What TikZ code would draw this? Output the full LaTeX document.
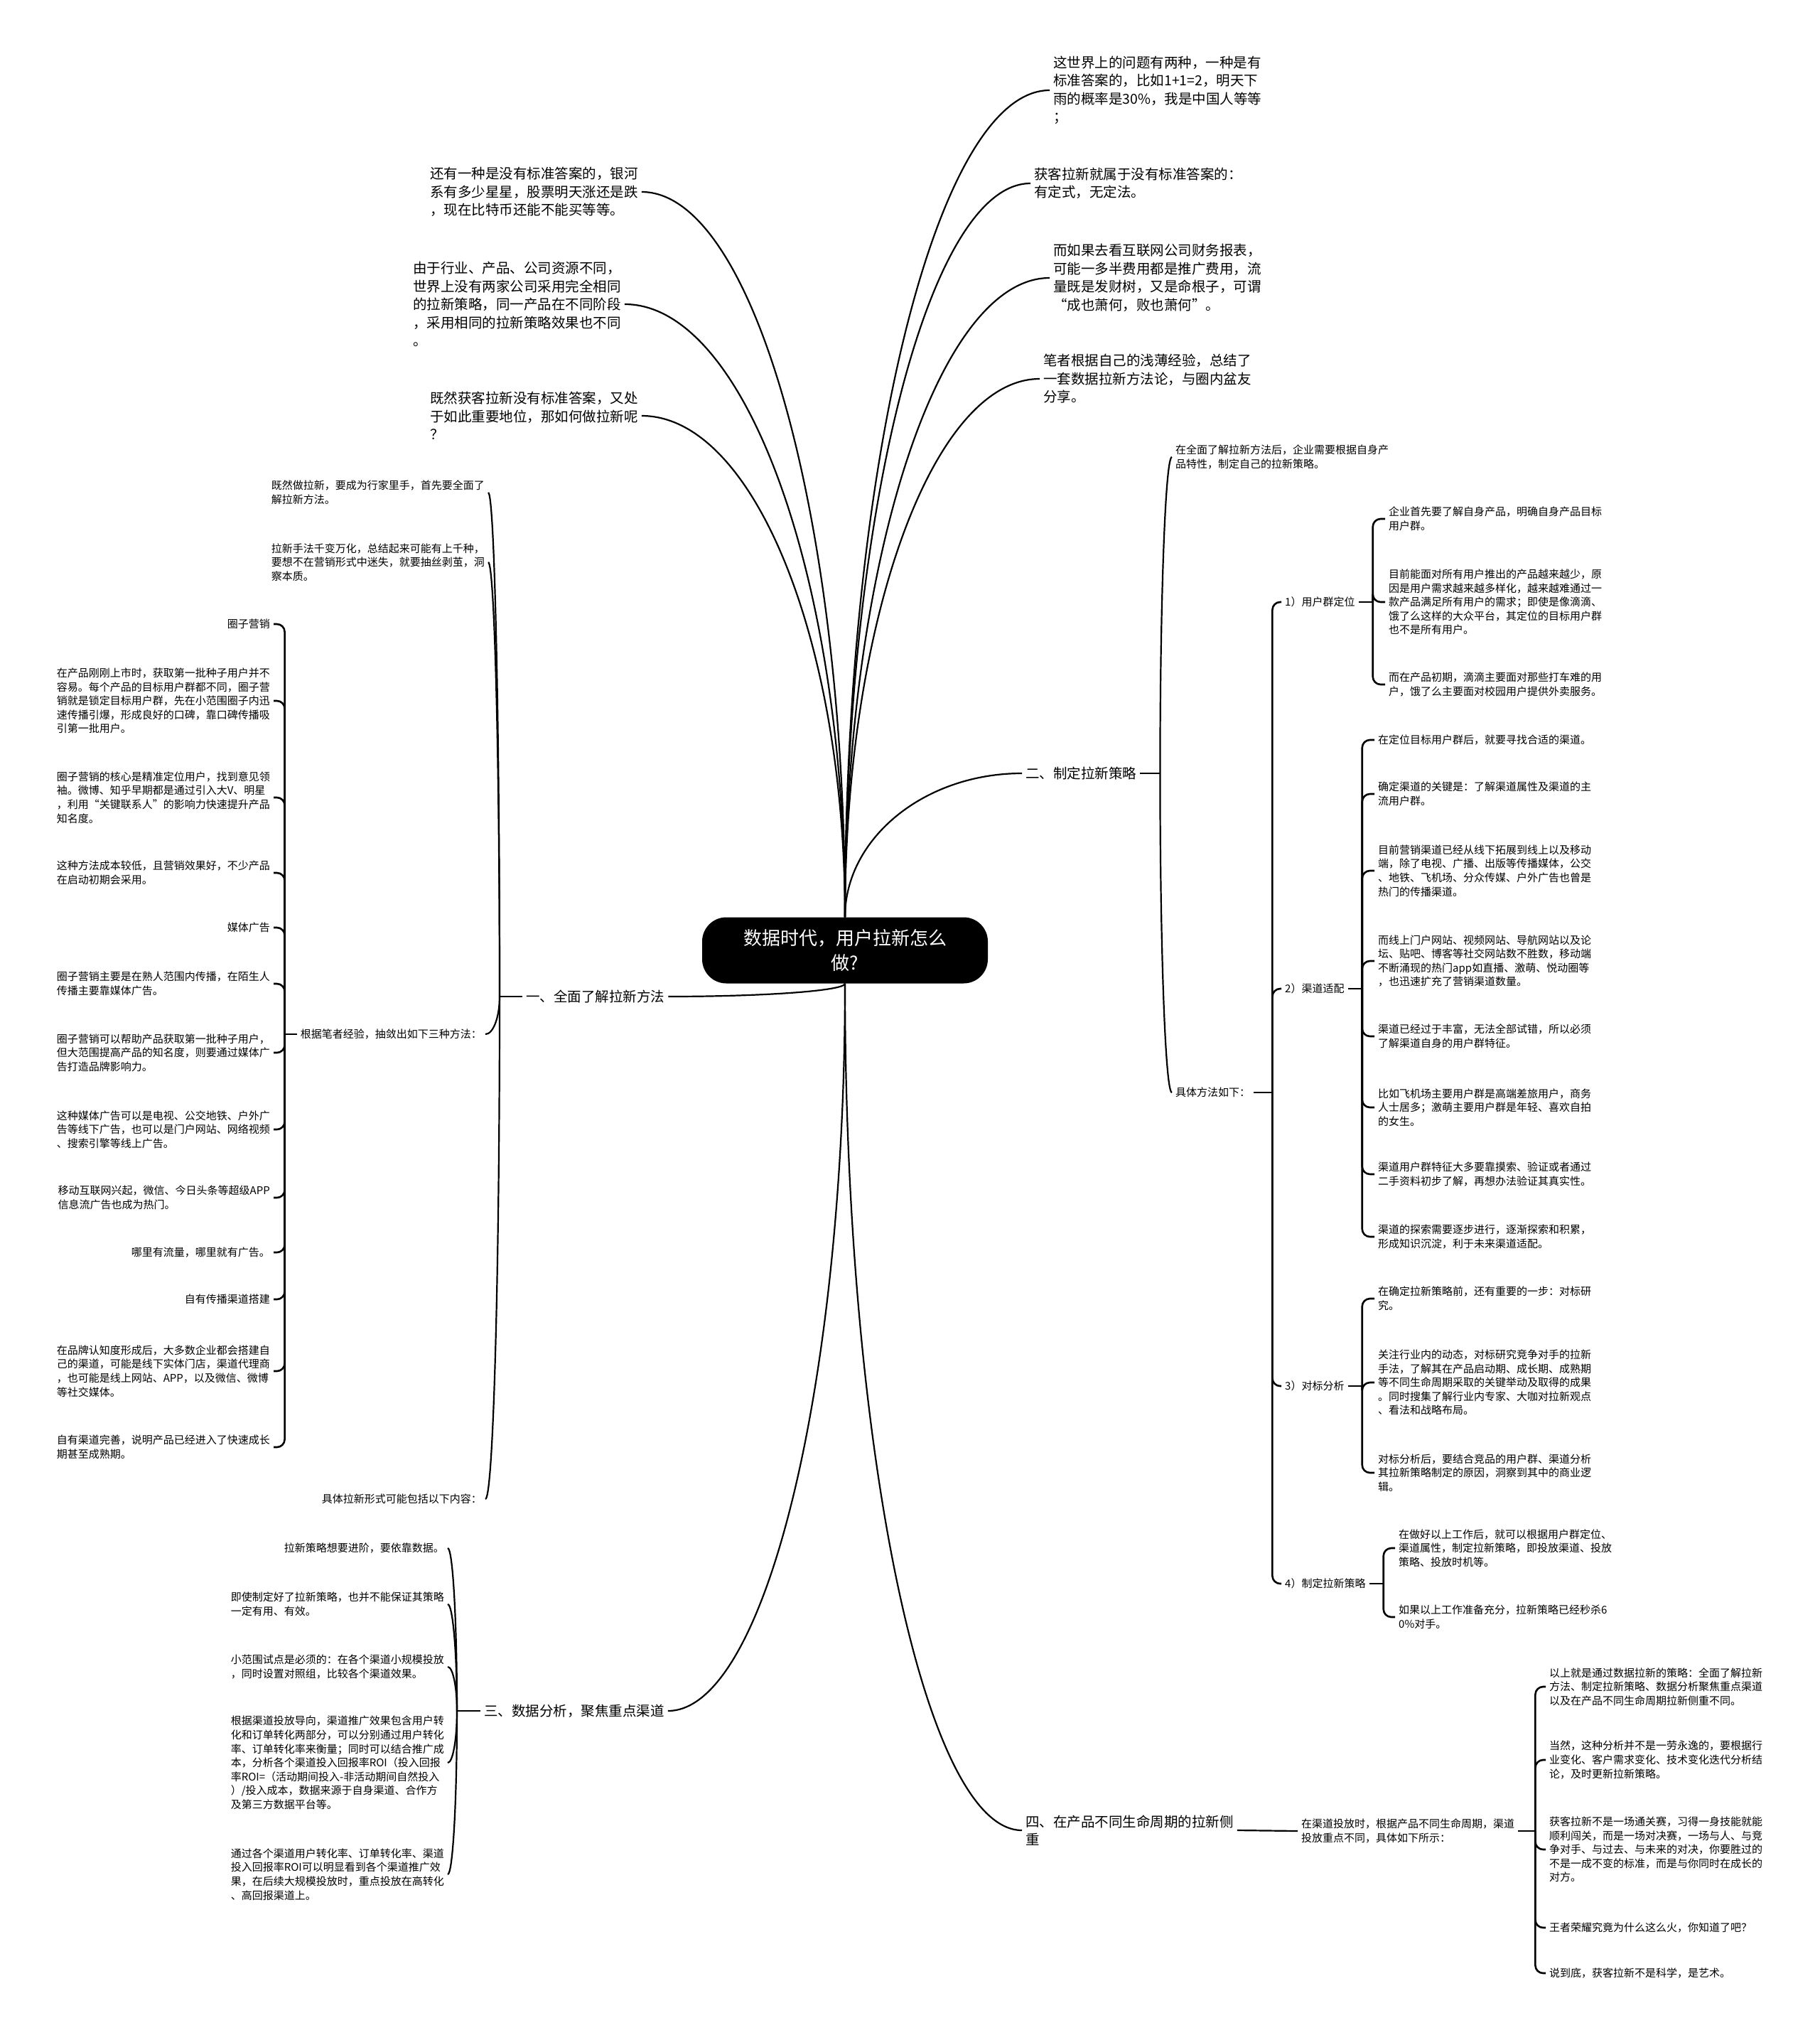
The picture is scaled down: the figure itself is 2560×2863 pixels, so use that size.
\documentclass[tikz,border=0pt]{standalone}
\usepackage{fontspec}
\setmainfont{Noto Sans CJK SC}
\usetikzlibrary{calc,positioning}

\begin{document}
\begin{tikzpicture}[x=1pt, y=-1pt,
    every node/.style={inner sep=5pt},
    big/.style={font=\fontsize{19.5}{25.5}\selectfont, align=left},
    small/.style={font=\fontsize{15}{19.6}\selectfont, align=left},
    link/.style={line width=2.2pt},
    brace/.style={line width=2.6pt, rounded corners=11pt},
    elbow/.style={to path={.. controls ($(\tikztostart)!0.55!(\tikztostart|-\tikztotarget)$) and ($(\tikztotarget)!0.55!(\tikztostart|-\tikztotarget)$) .. (\tikztotarget)}}]
        \fill [white] (0,0) rectangle (2560,2863);
        \useasboundingbox (0,0) rectangle (2560,2863);
        \node [fill=black, text=white, rounded corners=34pt, minimum width=402pt, minimum height=93pt, align=center, font=\fontsize{26}{35}\selectfont] (root) at (1189,1337) {数据时代，用户拉新怎么\\做?};
        \node [big, anchor=west] (t1) at (1477,127) {这世界上的问题有两种，一种是有\\标准答案的，比如1+1=2，明天下\\雨的概率是30\%，我是中国人等等\\；};
        \node [big, anchor=west] (t2) at (1450,258) {获客拉新就属于没有标准答案的：\\有定式，无定法。};
        \node [big, anchor=west] (t3) at (1477,391) {而如果去看互联网公司财务报表，\\可能一多半费用都是推广费用，流\\量既是发财树，又是命根子，可谓\\“成也萧何，败也萧何”。};
        \node [big, anchor=west] (t4) at (1463,533) {笔者根据自己的浅薄经验，总结了\\一套数据拉新方法论，与圈内盆友\\分享。};
        \node [big, anchor=west] (l1) at (600,270) {还有一种是没有标准答案的，银河\\系有多少星星，股票明天涨还是跌\\，现在比特币还能不能买等等。};
        \node [big, anchor=west] (l2) at (576,428) {由于行业、产品、公司资源不同，\\世界上没有两家公司采用完全相同\\的拉新策略，同一产品在不同阶段\\，采用相同的拉新策略效果也不同\\。};
        \node [big, anchor=west] (l3) at (600,585) {既然获客拉新没有标准答案，又处\\于如此重要地位，那如何做拉新呢\\？};
        \node [big, anchor=west] (b1) at (735,1402) {一、全面了解拉新方法};
        \node [big, anchor=west] (b2) at (1438,1088) {二、制定拉新策略};
        \node [big, anchor=west] (b3) at (676,2407) {三、数据分析，聚焦重点渠道};
        \node [big, anchor=west] (b4) at (1438,2575) {四、在产品不同生命周期的拉新侧\\重};
        \foreach \t in {t1,t2,t3,t4,b2}
            \draw [link] (root.north) to[elbow] (\t.west);
        \foreach \t in {l1,l2,l3}
            \draw [link] (root.north) to[elbow] (\t.east);
        \draw [link] (root.south) to[elbow] (b1.east);
        \draw [link] (root.south) to[elbow] (b3.east);
        \draw [link] (root.south) to[elbow] (b4.west);

        \node [small, anchor=east] (a1) at (687,693) {既然做拉新，要成为行家里手，首先要全面了\\解拉新方法。};
        \node [small, anchor=east] (a2) at (687,791) {拉新手法千变万化，总结起来可能有上千种，\\要想不在营销形式中迷失，就要抽丝剥茧，洞\\察本质。};
        \node [small, anchor=east] (a3) at (683,1455) {根据笔者经验，抽敛出如下三种方法：};
        \node [small, anchor=east] (a4) at (683,2109) {具体拉新形式可能包括以下内容：};
        \coordinate (j1) at ([xshift=-32pt]b1.west);
        \draw [link] (b1.west) -- (j1);
        \foreach \c in {a1,a2,a3,a4}
            \draw [link] (j1) to[elbow] (\c.east);

        \node [small, anchor=east] (m1) at (385,878) {圈子营销};
        \node [small, anchor=east] (m2) at (385,986) {在产品刚刚上市时，获取第一批种子用户并不\\容易。每个产品的目标用户群都不同，圈子营\\销就是锁定目标用户群，先在小范围圈子内迅\\速传播引爆，形成良好的口碑，靠口碑传播吸\\引第一批用户。};
        \node [small, anchor=east] (m3) at (385,1122) {圈子营销的核心是精准定位用户，找到意见领\\袖。微博、知乎早期都是通过引入大V、明星\\，利用“关键联系人”的影响力快速提升产品\\知名度。};
        \node [small, anchor=east] (m4) at (385,1228) {这种方法成本较低，且营销效果好，不少产品\\在启动初期会采用。};
        \node [small, anchor=east] (m5) at (385,1305) {媒体广告};
        \node [small, anchor=east] (m6) at (385,1384) {圈子营销主要是在熟人范围内传播，在陌生人\\传播主要靠媒体广告。};
        \node [small, anchor=east] (m7) at (385,1481) {圈子营销可以帮助产品获取第一批种子用户，\\但大范围提高产品的知名度，则要通过媒体广\\告打造品牌影响力。};
        \node [small, anchor=east] (m8) at (385,1589) {这种媒体广告可以是电视、公交地铁、户外广\\告等线下广告，也可以是门户网站、网络视频\\、搜索引擎等线上广告。};
        \node [small, anchor=east] (m9) at (385,1685) {移动互联网兴起，微信、今日头条等超级APP\\信息流广告也成为热门。};
        \node [small, anchor=east] (m10) at (385,1762) {哪里有流量，哪里就有广告。};
        \node [small, anchor=east] (m11) at (385,1828) {自有传播渠道搭建};
        \node [small, anchor=east] (m12) at (385,1929) {在品牌认知度形成后，大多数企业都会搭建自\\己的渠道，可能是线下实体门店，渠道代理商\\，也可能是线上网站、APP，以及微信、微博\\等社交媒体。};
        \node [small, anchor=east] (m13) at (385,2036) {自有渠道完善，说明产品已经进入了快速成长\\期甚至成熟期。};
        \coordinate (j13) at ([xshift=-17pt]a3.west);
        \draw [link] (a3.west) -- (j13);
        \foreach \i in {1,...,13}
            \draw [brace] (j13) |- (m\i.east);

        \node [small, anchor=west] (n1) at (1649,643) {在全面了解拉新方法后，企业需要根据自身产\\品特性，制定自己的拉新策略。};
        \node [small, anchor=west] (n2) at (1649,1537) {具体方法如下：};
        \coordinate (j2) at ([xshift=28pt]b2.east);
        \draw [link] (b2.east) -- (j2);
        \foreach \c in {n1,n2}
            \draw [link] (j2) to[elbow] (\c.west);

        \node [small, anchor=west] (p1) at (1803,847) {1）用户群定位};
        \node [small, anchor=west] (p2) at (1803,1391) {2）渠道适配};
        \node [small, anchor=west] (p3) at (1803,1950) {3）对标分析};
        \node [small, anchor=west] (p4) at (1803,2228) {4）制定拉新策略};
        \coordinate (j22) at ([xshift=26pt]n2.east);
        \draw [link] (n2.east) -- (j22);
        \foreach \c in {p1,p2,p3,p4}
            \draw [brace] (j22) |- (\c.west);

        \node [small, anchor=west] (q11) at (1949,730) {企业首先要了解自身产品，明确自身产品目标\\用户群。};
        \node [small, anchor=west] (q12) at (1949,847) {目前能面对所有用户推出的产品越来越少，原\\因是用户需求越来越多样化，越来越难通过一\\款产品满足所有用户的需求；即使是像滴滴、\\饿了么这样的大众平台，其定位的目标用户群\\也不是所有用户。};
        \node [small, anchor=west] (q13) at (1949,963) {而在产品初期，滴滴主要面对那些打车难的用\\户，饿了么主要面对校园用户提供外卖服务。};
        \coordinate (k1) at ([xshift=20pt]p1.east);
        \draw [link] (p1.east) -- (k1);
        \foreach \c in {q11,q12,q13}
            \draw [brace] (k1) |- (\c.west);

        \node [small, anchor=west] (q21) at (1934,1041) {在定位目标用户群后，就要寻找合适的渠道。};
        \node [small, anchor=west] (q22) at (1934,1117) {确定渠道的关键是：了解渠道属性及渠道的主\\流用户群。};
        \node [small, anchor=west] (q23) at (1934,1225) {目前营销渠道已经从线下拓展到线上以及移动\\端，除了电视、广播、出版等传播媒体，公交\\、地铁、飞机场、分众传媒、户外广告也曾是\\热门的传播渠道。};
        \node [small, anchor=west] (q24) at (1934,1352) {而线上门户网站、视频网站、导航网站以及论\\坛、贴吧、博客等社交网站数不胜数，移动端\\不断涌现的热门app如直播、激萌、悦动圈等\\，也迅速扩充了营销渠道数量。};
        \node [small, anchor=west] (q25) at (1934,1458) {渠道已经过于丰富，无法全部试错，所以必须\\了解渠道自身的用户群特征。};
        \node [small, anchor=west] (q26) at (1934,1558) {比如飞机场主要用户群是高端差旅用户，商务\\人士居多；激萌主要用户群是年轻、喜欢自拍\\的女生。};
        \node [small, anchor=west] (q27) at (1934,1652) {渠道用户群特征大多要靠摸索、验证或者通过\\二手资料初步了解，再想办法验证其真实性。};
        \node [small, anchor=west] (q28) at (1934,1740) {渠道的探索需要逐步进行，逐渐探索和积累，\\形成知识沉淀，利于未来渠道适配。};
        \coordinate (k2) at ([xshift=20pt]p2.east);
        \draw [link] (p2.east) -- (k2);
        \foreach \i in {1,...,8}
            \draw [brace] (k2) |- (q2\i.west);

        \node [small, anchor=west] (q31) at (1934,1827) {在确定拉新策略前，还有重要的一步：对标研\\究。};
        \node [small, anchor=west] (q32) at (1934,1945) {关注行业内的动态，对标研究竞争对手的拉新\\手法，了解其在产品启动期、成长期、成熟期\\等不同生命周期采取的关键举动及取得的成果\\。同时搜集了解行业内专家、大咖对拉新观点\\、看法和战略布局。};
        \node [small, anchor=west] (q33) at (1934,2072) {对标分析后，要结合竞品的用户群、渠道分析\\其拉新策略制定的原因，洞察到其中的商业逻\\辑。};
        \coordinate (k3) at ([xshift=20pt]p3.east);
        \draw [link] (p3.east) -- (k3);
        \foreach \c in {q31,q32,q33}
            \draw [brace] (k3) |- (\c.west);

        \node [small, anchor=west] (q41) at (1963,2178) {在做好以上工作后，就可以根据用户群定位、\\渠道属性，制定拉新策略，即投放渠道、投放\\策略、投放时机等。};
        \node [small, anchor=west] (q42) at (1963,2275) {如果以上工作准备充分，拉新策略已经秒杀6\\0\%对手。};
        \coordinate (k4) at ([xshift=20pt]p4.east);
        \draw [link] (p4.east) -- (k4);
        \foreach \c in {q41,q42}
            \draw [brace] (k4) |- (\c.west);

        \node [small, anchor=east] (r1) at (630,2178) {拉新策略想要进阶，要依靠数据。};
        \node [small, anchor=east] (r2) at (630,2257) {即使制定好了拉新策略，也并不能保证其策略\\一定有用、有效。};
        \node [small, anchor=east] (r3) at (630,2345) {小范围试点是必须的：在各个渠道小规模投放\\，同时设置对照组，比较各个渠道效果。};
        \node [small, anchor=east] (r4) at (630,2480) {根据渠道投放导向，渠道推广效果包含用户转\\化和订单转化两部分，可以分别通过用户转化\\率、订单转化率来衡量；同时可以结合推广成\\本，分析各个渠道投入回报率ROI（投入回报\\率ROI=（活动期间投入-非活动期间自然投入\\）/投入成本，数据来源于自身渠道、合作方\\及第三方数据平台等。};
        \node [small, anchor=east] (r5) at (630,2637) {通过各个渠道用户转化率、订单转化率、渠道\\投入回报率ROI可以明显看到各个渠道推广效\\果，在后续大规模投放时，重点投放在高转化\\、高回报渠道上。};
        \coordinate (j3) at ([xshift=-33pt]b3.west);
        \draw [link] (b3.west) -- (j3);
        \foreach \c in {r1,r2,r3,r4,r5}
            \draw [link] (j3) to[elbow] (\c.east);

        \node [small, anchor=west] (s1) at (1826,2576) {在渠道投放时，根据产品不同生命周期，渠道\\投放重点不同，具体如下所示：};
        \draw [link] (b4.east) -- (s1.west);
        \node [small, anchor=west] (u1) at (2175,2373) {以上就是通过数据拉新的策略：全面了解拉新\\方法、制定拉新策略、数据分析聚焦重点渠道\\以及在产品不同生命周期拉新侧重不同。};
        \node [small, anchor=west] (u2) at (2175,2476) {当然，这种分析并不是一劳永逸的，要根据行\\业变化、客户需求变化、技术变化迭代分析结\\论，及时更新拉新策略。};
        \node [small, anchor=west] (u3) at (2175,2602) {获客拉新不是一场通关赛，习得一身技能就能\\顺利闯关，而是一场对决赛，一场与人、与竞\\争对手、与过去、与未来的对决，你要胜过的\\不是一成不变的标准，而是与你同时在成长的\\对方。};
        \node [small, anchor=west] (u4) at (2175,2712) {王者荣耀究竟为什么这么火，你知道了吧？};
        \node [small, anchor=west] (u5) at (2175,2776) {说到底，获客拉新不是科学，是艺术。};
        \coordinate (k5) at ([xshift=24pt]s1.east);
        \draw [link] (s1.east) -- (k5);
        \foreach \c in {u1,u2,u3,u4,u5}
            \draw [brace] (k5) |- (\c.west);
\end{tikzpicture}
\end{document}
